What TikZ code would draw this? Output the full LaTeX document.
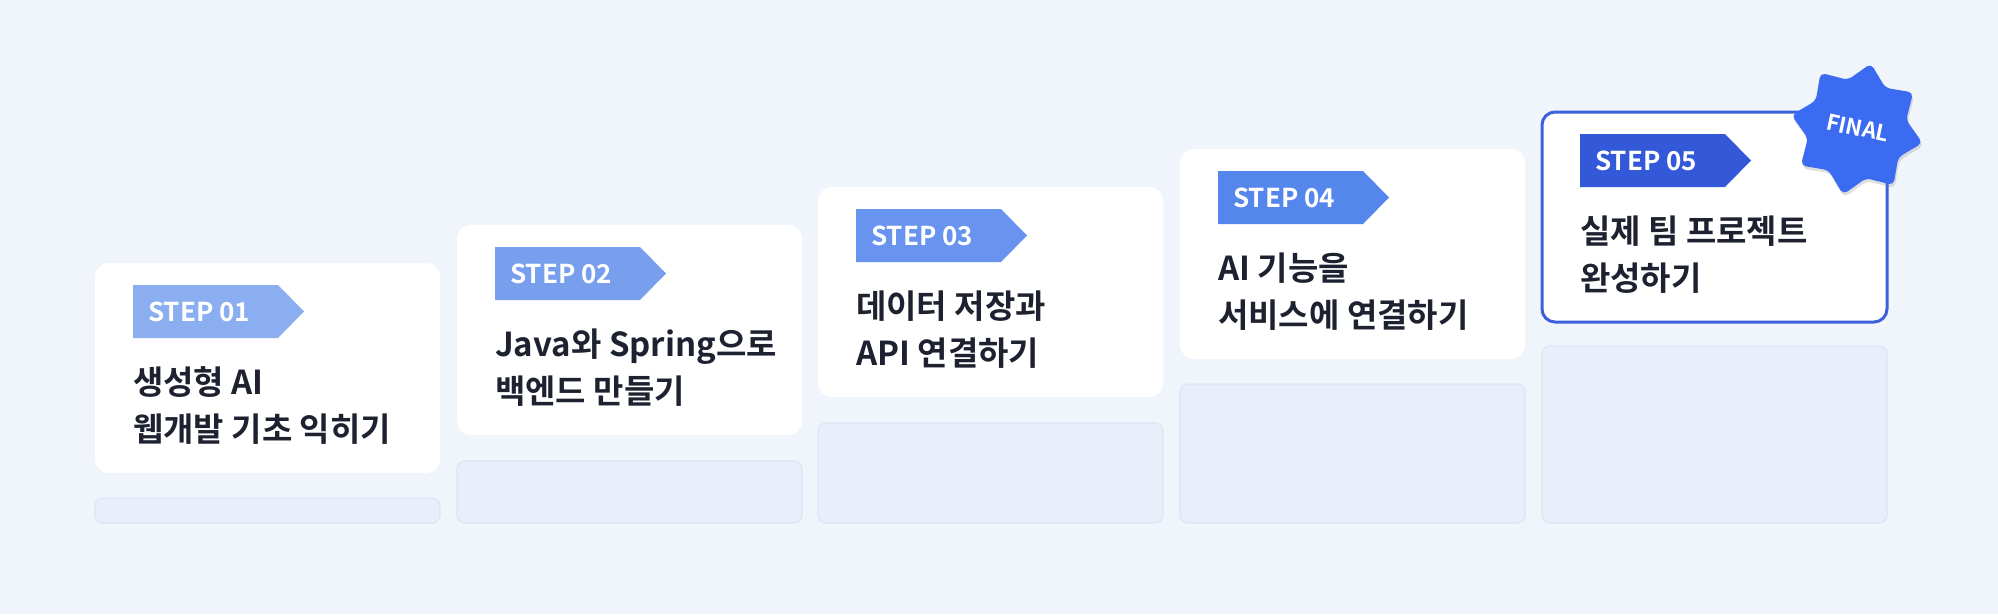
\documentclass[tikz,border=0pt]{standalone}
\usepackage{fontspec}
\setmainfont{Noto Sans CJK KR}[BoldFont={Noto Sans CJK KR Bold}]
\usetikzlibrary{shadows}
\definecolor{bg}{HTML}{F0F5FC}
\definecolor{barf}{HTML}{E8EFFB}
\definecolor{bard}{HTML}{DCE5F5}
\definecolor{ink}{HTML}{1E2230}
\definecolor{tA}{HTML}{8AAEF0}
\definecolor{tB}{HTML}{779FEE}
\definecolor{tC}{HTML}{6893EE}
\definecolor{tD}{HTML}{5586EC}
\definecolor{tE}{HTML}{3359D8}
\definecolor{fin}{HTML}{3B6BF0}
\begin{document}
\begin{tikzpicture}[x=1pt,y=-1pt,
  card/.style={fill=white,rounded corners=14pt},
  bar/.style={fill=barf,draw=bard,line width=1.2pt,rounded corners=8pt},
  title/.style={anchor=base west,font=\bfseries\fontsize{33}{38}\selectfont,text=ink,inner sep=0pt,align=left},
  tagtxt/.style={anchor=west,font=\bfseries\fontsize{26}{30}\selectfont,text=white,inner sep=0pt}]
\fill[bg] (0,0) rectangle (1998,614);
\useasboundingbox (0,0) rectangle (1998,614);
\newcommand\stepcard[7]{% #1 x, #2 top, #3 bar top, #4 color, #5 label, #6 line1, #7 line2
  \draw[bar] (#1,#3) rectangle ++(345,523-#3);
  \fill[card] (#1,#2) rectangle ++(345,210);
  \fill[#4] (#1+38,#2+22) -- ++(145,0) -- ++(26,26.5) -- ++(-26,26.5) -- ++(-145,0) -- cycle;
  \node[tagtxt] (tag#5) at (#1+53,#2+49) {STEP #5};
  \node[title] (t#5) at (#1+38,#2+131) {#6};
  \node[title] (u#5) at (#1+38,#2+178) {#7};
}
\stepcard{95}{263}{498}{tA}{01}{생성형 AI}{웹개발 기초 익히기}
\stepcard{457}{225}{461}{tB}{02}{Java와 Spring으로}{백엔드 만들기}
\stepcard{818}{187}{423}{tC}{03}{데이터 저장과}{API 연결하기}
\stepcard{1180}{149}{384}{tD}{04}{AI 기능을}{서비스에 연결하기}
\stepcard{1542}{112}{346}{tE}{05}{실제 팀 프로젝트}{완성하기}
\draw[tE!95,line width=3pt,rounded corners=13pt] (1542,112) rectangle ++(345,210);
\fill[fin,rounded corners=5pt,drop shadow={opacity=0.25,shadow xshift=1pt,shadow yshift=-3pt}]
  plot[samples at={0,22.5,...,337.5}] ({1857+(mod(\x,45)==0?67:50)*cos(\x+12)},{129+(mod(\x,45)==0?67:50)*sin(\x+12)}) -- cycle;
\node[rotate=-12,font=\bfseries\fontsize{22}{26}\selectfont,text=white] (final) at (1858,128) {FINAL};
\end{tikzpicture}
\end{document}
